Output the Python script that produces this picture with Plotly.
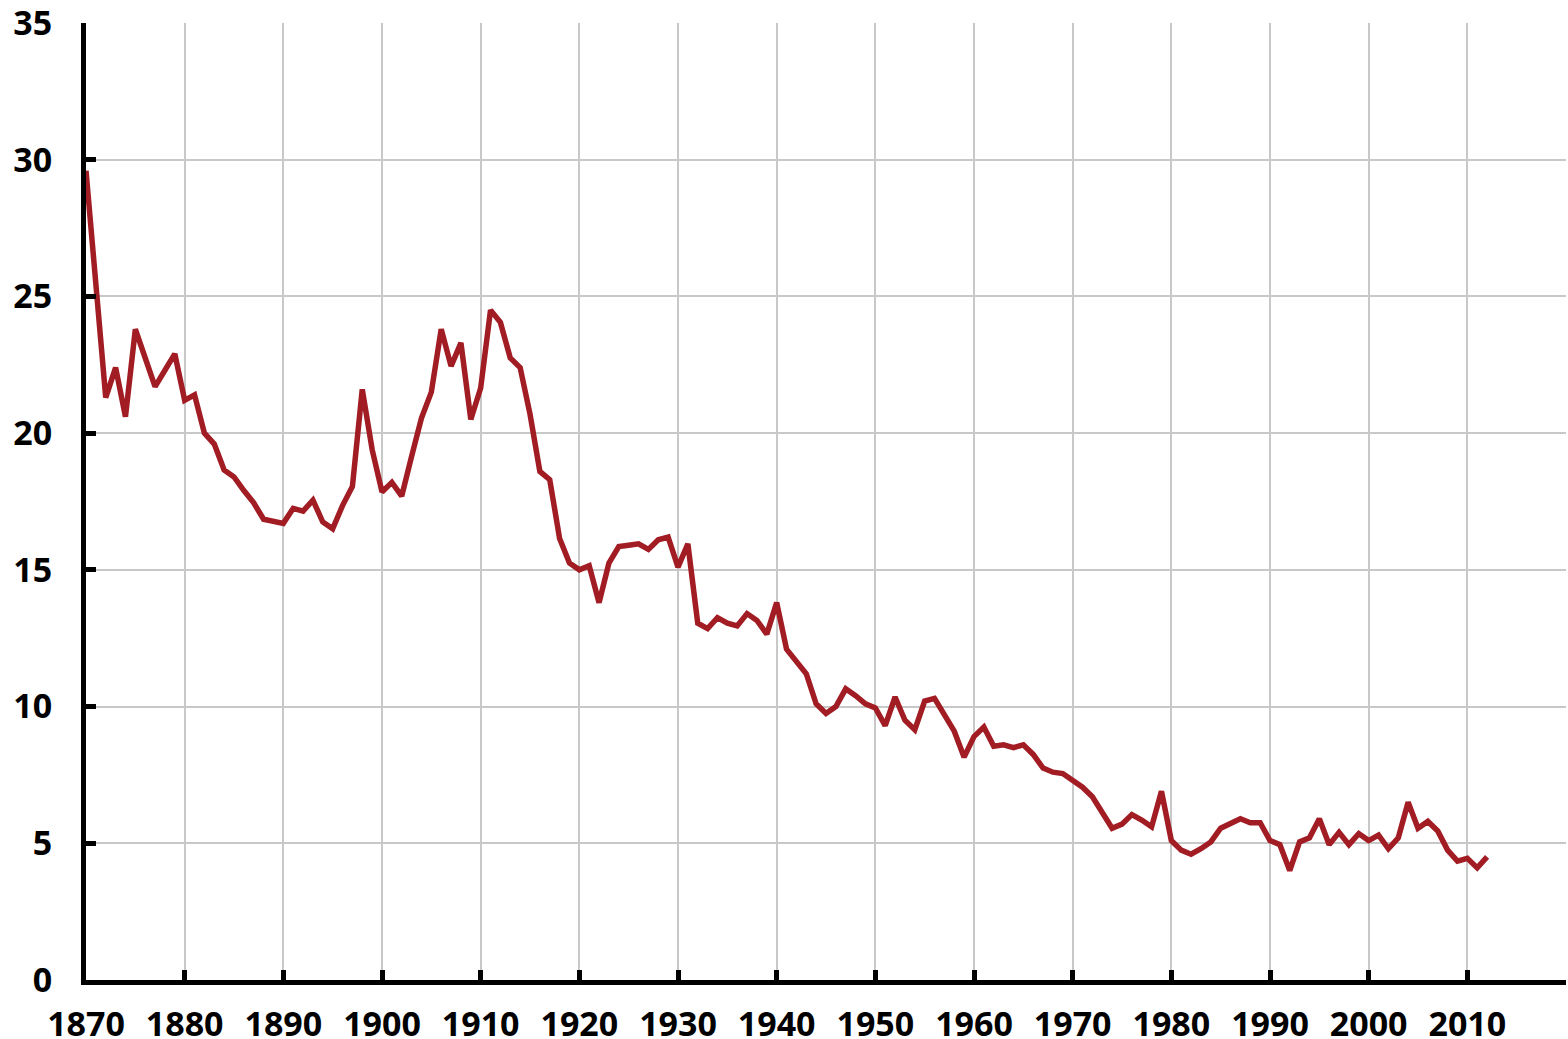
import plotly.graph_objects as go

years = list(range(1870, 2013))
values = [
    29.6, 25.5, 21.3, 22.4, 20.6, 23.8, 22.7, 21.7, 22.3, 22.9,  # 1870-1879
    21.2, 21.4, 20.0, 19.6, 18.65, 18.4, 17.9, 17.45, 16.85, 16.8,  # 1880-1889
    16.7, 17.25, 17.15, 17.55, 16.75, 16.5, 17.35, 18.05, 21.6, 19.4,  # 1890-1899
    17.85, 18.2, 17.7, 19.15, 20.55, 21.5, 23.8, 22.45, 23.3, 20.5,  # 1900-1909
    21.65, 24.5, 24.05, 22.75, 22.4, 20.7, 18.6, 18.3, 16.15, 15.25,  # 1910-1919
    15.0, 15.15, 13.8, 15.25, 15.85, 15.9, 15.95, 15.75, 16.1, 16.2,  # 1920-1929
    15.1, 15.95, 13.05, 12.85, 13.25, 13.05, 12.95, 13.4, 13.15, 12.65,  # 1930-1939
    13.8, 12.1, 11.65, 11.2, 10.1, 9.75, 10.0, 10.65, 10.4, 10.1,  # 1940-1949
    9.95, 9.3, 10.35, 9.5, 9.15, 10.2, 10.3, 9.65, 9.1, 8.15,  # 1950-1959
    8.9, 9.25, 8.55, 8.6, 8.5, 8.6, 8.25, 7.75, 7.6, 7.55,  # 1960-1969
    7.3, 7.05, 6.7, 6.1, 5.55, 5.7, 6.05, 5.85, 5.6, 6.9,  # 1970-1979
    5.1, 4.75, 4.6, 4.8, 5.05, 5.55, 5.75, 5.9, 5.75, 5.75,  # 1980-1989
    5.1, 4.95, 4.0, 5.05, 5.2, 5.9, 4.95, 5.4, 4.95, 5.35,  # 1990-1999
    5.1, 5.3, 4.8, 5.2, 6.5, 5.55, 5.8, 5.45, 4.75, 4.35,  # 2000-2009
    4.45, 4.1, 4.5,  # 2010-2012
]

x_tickvals = list(range(1870, 2021, 10))
x_ticktext = [str(v) for v in range(1870, 2020, 10)] + [""]
y_tickvals = list(range(0, 36, 5))

fig = go.Figure()
fig.add_trace(go.Scatter(
    x=years, y=values, mode="lines",
    line=dict(color="#A21C24", width=5.5),
    hoverinfo="x+y",
))

tickfont = dict(family="Open Sans", size=34, color="black", weight="bold")

fig.update_layout(
    width=1568, height=1039,
    margin=dict(l=86, r=2, t=23, b=59),
    paper_bgcolor="white", plot_bgcolor="white",
    showlegend=False,
    xaxis=dict(
        range=[1870, 2020], tickvals=x_tickvals, ticktext=x_ticktext,
        showgrid=True, gridcolor="#c8c8c8", gridwidth=1.5,
        showline=True, linecolor="black", linewidth=5,
        ticks="inside", ticklen=10, tickwidth=5, tickcolor="black",
        tickfont=tickfont, zeroline=False, ticklabelstandoff=10,
        automargin=False, ticklabeloverflow="allow",
    ),
    yaxis=dict(
        range=[0, 35], tickvals=y_tickvals,
        showgrid=True, gridcolor="#c8c8c8", gridwidth=1.5,
        showline=True, linecolor="black", linewidth=5,
        ticks="inside", ticklen=10, tickwidth=5, tickcolor="black",
        tickfont=tickfont, zeroline=False, ticklabelstandoff=22,
        automargin=False, ticklabeloverflow="allow",
    ),
)

fig.write_html(
    "out.html",
    config={"displayModeBar": False},
    post_script="document.body.style.margin='0';document.body.style.overflow='hidden';",
)
